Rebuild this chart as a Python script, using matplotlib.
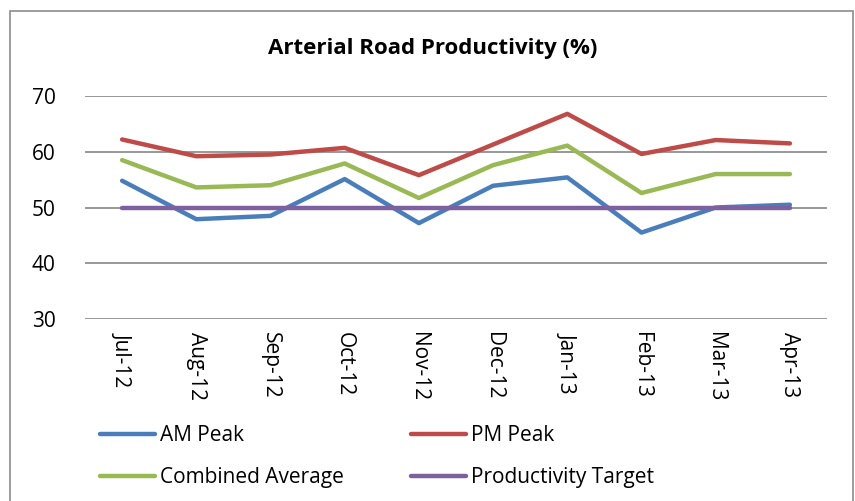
import matplotlib.pyplot as plt
from matplotlib.patches import Rectangle

months = ['Jul-12', 'Aug-12', 'Sep-12', 'Oct-12', 'Nov-12',
          'Dec-12', 'Jan-13', 'Feb-13', 'Mar-13', 'Apr-13']
am_peak = [54.8, 47.9, 48.5, 55.1, 47.2, 53.9, 55.4, 45.5, 50.0, 50.5]
pm_peak = [62.2, 59.2, 59.5, 60.7, 55.8, 61.3, 66.8, 59.6, 62.1, 61.5]
combined = [58.5, 53.6, 54.0, 57.9, 51.7, 57.6, 61.1, 52.6, 56.0, 56.0]
target = [50, 50, 50, 50, 50, 50, 50, 50, 50, 50]
y_ticks = [30, 40, 50, 60, 70]

plt.rcParams['font.family'] = ['Open Sans', 'DejaVu Sans']

fig = plt.figure(figsize=(8.55, 5.01), dpi=100)
ax = fig.add_axes([85 / 855, 1 - 319 / 501, 742 / 855, 223 / 501])

x = range(len(months))
l1, = ax.plot(x, am_peak, color='#4A7EBB', lw=3.2, label='AM Peak', solid_capstyle='round')
l2, = ax.plot(x, pm_peak, color='#BE4B48', lw=3.2, label='PM Peak', solid_capstyle='round')
l3, = ax.plot(x, combined, color='#98B954', lw=3.2, label='Combined Average', solid_capstyle='round')
l4, = ax.plot(x, target, color='#7D60A0', lw=3.2, label='Productivity Target', solid_capstyle='round')

ax.set_xlim(-0.5, len(months) - 0.5)
ax.set_ylim(30, 70)
ax.set_yticks(y_ticks)
ax.set_xticks(list(x))
ax.set_xticklabels(months, rotation=-90, fontsize=15)
ax.tick_params(axis='y', labelsize=15, length=0, pad=21)
ax.tick_params(axis='x', length=0, pad=9)
ax.grid(axis='y', color='#868686', lw=1.2)
ax.set_axisbelow(True)
for s in ax.spines.values():
    s.set_visible(False)

fig.text(0.506, 0.904, 'Arterial Road Productivity (%)', ha='center', va='center',
         fontsize=16, fontweight='bold')

fig.legend([l1, l3, l2, l4], ['AM Peak', 'Combined Average', 'PM Peak', 'Productivity Target'],
           loc='upper left', bbox_to_anchor=(100 / 855, 1 - 425 / 501), ncol=2, frameon=False,
           fontsize=15, handlelength=2.64, handletextpad=0.24, columnspacing=3.2,
           labelspacing=1.0, borderaxespad=0, borderpad=0)

fig.patches.append(Rectangle((10 / 855, -0.01), 843 / 855, 1 - 11 / 501 + 0.01,
                             transform=fig.transFigure, fill=False,
                             edgecolor='#8C8C8C', lw=1.2))

fig.savefig('out.png', dpi=100)
